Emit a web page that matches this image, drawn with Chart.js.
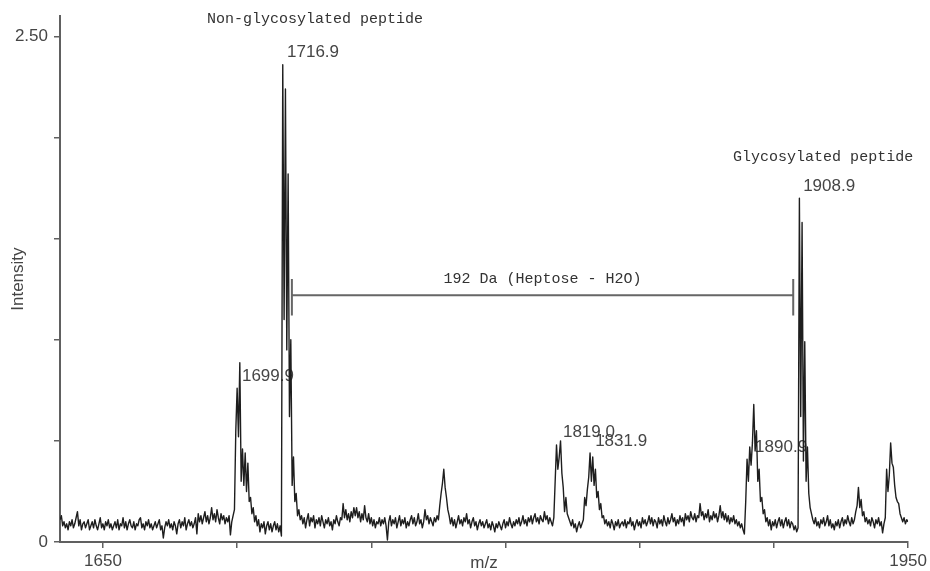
<!DOCTYPE html>
<html lang="en">
<head>
<meta charset="UTF-8">
<title>MALDI spectrum - glycosylated peptide</title>
<script src="https://cdn.jsdelivr.net/npm/chart.js@4.4.1/dist/chart.umd.min.js"></script>
<style>
  html, body { margin: 0; padding: 0; background: #fff; }
  #wrap { width: 930px; height: 571px; position: relative; }
</style>
</head>
<body>
<div id="wrap"><canvas id="spectrum"></canvas></div>
<script>
// trace sampled every 0.5 m/z from 1634
const mzStart = 1634;
const mzStep = 0.5;
const intensity = [
  0.11,0.13,0.08,0.10,0.07,0.09,0.06,0.10,0.08,0.11, 0.07,0.09,0.12,0.15,0.08,0.11,0.06,0.09,0.10,0.07,
  0.09,0.11,0.06,0.08,0.10,0.07,0.11,0.08,0.06,0.09, 0.12,0.07,0.09,0.06,0.10,0.08,0.11,0.07,0.09,0.06,
  0.08,0.10,0.07,0.11,0.06,0.09,0.08,0.12,0.07,0.10, 0.06,0.09,0.11,0.08,0.07,0.10,0.06,0.09,0.08,0.11,
  0.12,0.07,0.09,0.06,0.10,0.08,0.11,0.07,0.09,0.06, 0.08,0.10,0.07,0.09,0.11,0.06,0.08,0.02,0.07,0.10,
  0.08,0.11,0.07,0.09,0.06,0.10,0.08,0.04,0.09,0.11, 0.07,0.10,0.08,0.12,0.06,0.09,0.11,0.08,0.10,0.07,
  0.09,0.12,0.04,0.14,0.10,0.13,0.09,0.12,0.15,0.10, 0.13,0.09,0.12,0.17,0.11,0.14,0.10,0.16,0.12,0.09,
  0.14,0.11,0.13,0.09,0.12,0.10,0.13,0.035,0.10,0.13, 0.16,0.55,0.76,0.52,0.886,0.30,0.46,0.28,0.44,0.25,
  0.39,0.20,0.22,0.14,0.17,0.10,0.13,0.08,0.11,0.05, 0.09,0.07,0.10,0.04,0.08,0.10,0.06,0.09,0.05,0.08,
  0.10,0.06,0.09,0.05,0.08,0.03,2.36,1.10,2.24,0.95, 1.82,0.62,1.00,0.28,0.42,0.20,0.24,0.13,0.16,0.11,
  0.13,0.09,0.12,0.07,0.11,0.14,0.08,0.12,0.10,0.13, 0.07,0.11,0.09,0.12,0.08,0.13,0.10,0.07,0.11,0.09,
  0.12,0.08,0.10,0.06,0.11,0.09,0.13,0.10,0.08,0.12, 0.11,0.19,0.12,0.16,0.11,0.14,0.10,0.15,0.12,0.17,
  0.13,0.17,0.12,0.15,0.10,0.14,0.11,0.18,0.12,0.10, 0.14,0.09,0.12,0.08,0.11,0.07,0.10,0.09,0.12,0.08,
  0.11,0.09,0.12,0.08,0.01,0.10,0.13,0.08,0.11,0.09, 0.12,0.07,0.10,0.13,0.08,0.11,0.09,0.12,0.07,0.10,
  0.08,0.11,0.13,0.09,0.12,0.08,0.10,0.14,0.09,0.11, 0.07,0.10,0.16,0.11,0.13,0.09,0.12,0.10,0.08,0.12,
  0.10,0.13,0.11,0.18,0.24,0.29,0.36,0.27,0.22,0.16, 0.13,0.09,0.12,0.08,0.11,0.07,0.10,0.13,0.09,0.11,
  0.08,0.12,0.10,0.14,0.09,0.11,0.07,0.10,0.12,0.08, 0.10,0.06,0.09,0.11,0.08,0.10,0.07,0.09,0.11,0.07,
  0.09,0.06,0.10,0.08,0.05,0.09,0.07,0.10,0.08,0.06, 0.09,0.11,0.07,0.10,0.08,0.12,0.09,0.07,0.10,0.08,
  0.11,0.09,0.12,0.08,0.10,0.13,0.09,0.11,0.08,0.12, 0.10,0.13,0.09,0.12,0.14,0.10,0.12,0.09,0.13,0.11,
  0.10,0.15,0.11,0.13,0.09,0.12,0.10,0.08,0.12,0.30, 0.48,0.36,0.42,0.50,0.34,0.27,0.15,0.22,0.14,0.12,
  0.10,0.08,0.11,0.07,0.09,0.05,0.08,0.10,0.07,0.09, 0.11,0.22,0.18,0.26,0.32,0.44,0.30,0.42,0.28,0.36,
  0.22,0.25,0.16,0.19,0.12,0.13,0.09,0.11,0.08,0.10, 0.07,0.11,0.09,0.06,0.10,0.08,0.11,0.07,0.09,0.10,
  0.08,0.11,0.07,0.10,0.09,0.12,0.08,0.10,0.06,0.09, 0.11,0.08,0.10,0.07,0.12,0.09,0.11,0.08,0.10,0.13,
  0.09,0.12,0.08,0.11,0.10,0.07,0.12,0.09,0.11,0.08, 0.13,0.10,0.08,0.12,0.09,0.11,0.14,0.10,0.12,0.08,
  0.11,0.09,0.13,0.10,0.12,0.08,0.14,0.11,0.13,0.10, 0.15,0.12,0.11,0.14,0.10,0.13,0.12,0.19,0.13,0.15,
  0.11,0.14,0.12,0.16,0.10,0.13,0.11,0.15,0.12,0.14, 0.10,0.13,0.18,0.12,0.15,0.11,0.14,0.10,0.13,0.09,
  0.12,0.10,0.13,0.09,0.11,0.08,0.10,0.07,0.09,0.06, 0.04,0.20,0.41,0.30,0.47,0.38,0.49,0.68,0.45,0.55,
  0.30,0.36,0.20,0.22,0.14,0.16,0.10,0.12,0.08,0.11, 0.06,0.10,0.08,0.11,0.07,0.10,0.12,0.08,0.11,0.07,
  0.10,0.12,0.08,0.11,0.07,0.10,0.09,0.06,0.08,0.05, 0.07,1.70,0.62,1.58,0.40,0.99,0.30,0.47,0.24,0.17,
  0.14,0.11,0.09,0.12,0.08,0.10,0.07,0.11,0.09,0.12, 0.08,0.10,0.13,0.08,0.11,0.07,0.09,0.06,0.10,0.08,
  0.11,0.07,0.10,0.12,0.08,0.11,0.09,0.13,0.10,0.08, 0.12,0.09,0.11,0.15,0.18,0.27,0.17,0.21,0.13,0.15,
  0.10,0.12,0.09,0.11,0.08,0.12,0.10,0.07,0.11,0.09, 0.12,0.08,0.10,0.045,0.09,0.12,0.36,0.25,0.33,0.49,
  0.39,0.37,0.28,0.22,0.20,0.19,0.14,0.12,0.10,0.12, 0.09,0.11,0.10
];

// axes
const xTickValues = [1650, 1700, 1750, 1800, 1850, 1900, 1950];
const xTickLabels = ['1650', '', '', '', '', '', '1950'];
const yTickValues = [0, 0.5, 1, 1.5, 2, 2.5];
const yTickLabels = ['0', '', '', '', '', '2.50'];

// peak m/z labels (left edge of text, text middle)
const peakLabels = ['1699.9', '1716.9', '1819.0', '1831.9', '1890.9', '1908.9'];
const peakLabelMz = [1701.8, 1718.6, 1821.4, 1833.4, 1893.0, 1910.9];
const peakLabelLevel = [0.82, 2.42, 0.54, 0.50, 0.47, 1.757];

// captions
const noteLabels = ['Non-glycosylated peptide', 'Glycosylated peptide'];
const noteMz = [1688.8, 1884.8];
const noteLevel = [2.584, 1.905];

// mass difference bracket
const bracketText = '192 Da (Heptose - H2O)';
const bracketMz = [1720.4, 1907.2];
const bracketLevel = 1.22;
const bracketEnds = [1.12, 1.30];
const bracketTextLevel = 1.30;

const axisColor = '#606060';
const textColor = '#454545';
const sansFont = '"Liberation Sans", Arial, sans-serif';
const monoFont = '"Liberation Mono", "Courier New", monospace';

const annotations = {
  id: 'annotations',
  beforeDatasetsDraw(chart) {
    const { ctx, scales: { x, y } } = chart;
    ctx.save();
    ctx.font = '17px ' + sansFont;
    ctx.fillStyle = textColor;
    ctx.textAlign = 'left';
    ctx.textBaseline = 'middle';
    peakLabels.forEach((t, i) => {
      ctx.fillText(t, x.getPixelForValue(peakLabelMz[i]), y.getPixelForValue(peakLabelLevel[i]));
    });
    ctx.restore();
  },
  afterDatasetsDraw(chart) {
    const { ctx, scales: { x, y } } = chart;
    ctx.save();
    ctx.font = '15px ' + monoFont;
    ctx.fillStyle = '#333';
    ctx.textBaseline = 'middle';
    ctx.textAlign = 'left';
    noteLabels.forEach((t, i) => {
      ctx.fillText(t, x.getPixelForValue(noteMz[i]), y.getPixelForValue(noteLevel[i]));
    });

    // bracket
    const x0 = x.getPixelForValue(bracketMz[0]);
    const x1 = x.getPixelForValue(bracketMz[1]);
    const yl = y.getPixelForValue(bracketLevel);
    ctx.strokeStyle = '#666';
    ctx.lineWidth = 2;
    ctx.beginPath();
    ctx.moveTo(x0, yl);
    ctx.lineTo(x1, yl);
    [x0, x1].forEach(px => {
      ctx.moveTo(px, y.getPixelForValue(bracketEnds[0]));
      ctx.lineTo(px, y.getPixelForValue(bracketEnds[1]));
    });
    ctx.stroke();
    ctx.textAlign = 'center';
    ctx.fillText(bracketText, (x0 + x1) / 2, y.getPixelForValue(bracketTextLevel));
    ctx.restore();
  }
};

const ctx = document.getElementById('spectrum').getContext('2d');
new Chart(ctx, {
  type: 'line',
  data: {
    datasets: [{
      label: 'Intensity',
      data: intensity.map((v, i) => ({ x: mzStart + i * mzStep, y: v })),
      borderColor: '#1e1e1e',
      borderWidth: 1.4,
      borderJoinStyle: 'round',
      pointRadius: 0,
      tension: 0,
      fill: false
    }]
  },
  options: {
    responsive: true,
    maintainAspectRatio: false,
    animation: false,
    devicePixelRatio: 1,
    layout: { padding: { left: 0, top: 14, right: 21, bottom: 0 } },
    plugins: {
      legend: { display: false },
      tooltip: { enabled: false }
    },
    scales: {
      x: {
        type: 'linear',
        min: 1634,
        max: 1950,
        afterBuildTicks: scale => { scale.ticks = xTickValues.map(v => ({ value: v })); },
        afterFit: scale => { scale.height = 29; },
        ticks: {
          autoSkip: false,
          maxRotation: 0,
          padding: 3,
          color: textColor,
          font: { family: sansFont, size: 17 },
          callback: (v, i) => xTickLabels[i]
        },
        grid: { display: true, drawOnChartArea: false, drawTicks: true, tickLength: 6, color: axisColor, lineWidth: 1.5 },
        border: { display: true, color: axisColor, width: 2 },
        title: {
          display: true,
          text: 'm/z',
          color: textColor,
          font: { family: sansFont, size: 17 },
          padding: { top: 0, bottom: -3 }
        }
      },
      y: {
        min: 0,
        max: 2.6,
        afterBuildTicks: scale => { scale.ticks = yTickValues.map(v => ({ value: v })); },
        afterFit: scale => { scale.width = 60; },
        ticks: {
          padding: 6,
          color: textColor,
          font: { family: sansFont, size: 17 },
          callback: (v, i) => yTickLabels[i]
        },
        grid: { display: true, drawOnChartArea: false, drawTicks: true, tickLength: 6, color: axisColor, lineWidth: 1.5 },
        border: { display: true, color: axisColor, width: 2 },
        title: {
          display: true,
          text: 'Intensity',
          color: textColor,
          font: { family: sansFont, size: 17 },
          padding: { top: 8, bottom: 0 }
        }
      }
    }
  },
  plugins: [annotations]
});
</script>
</body>
</html>
